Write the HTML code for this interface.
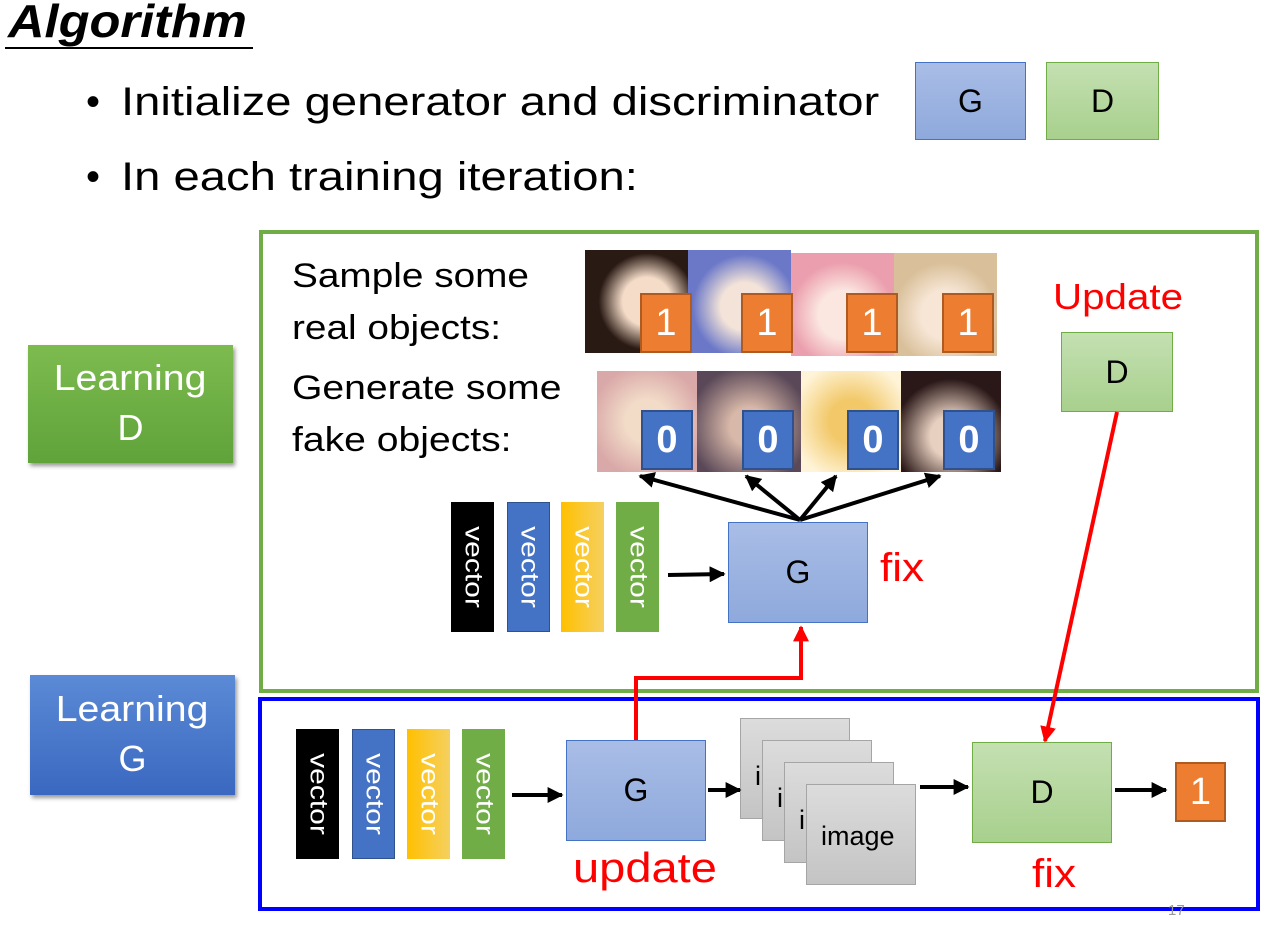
<!DOCTYPE html>
<html><head><meta charset="utf-8"><style>
body{margin:0;width:1276px;height:932px;background:#fff;position:relative;overflow:hidden;font-family:"Liberation Sans","DejaVu Sans",sans-serif;}
.a{position:absolute;}
.t{position:absolute;white-space:nowrap;color:#000;transform-origin:0 0;}
.gb{position:absolute;background:linear-gradient(#a9bde6,#8ea9dc);border:1px solid #4472c4;box-sizing:border-box;display:flex;align-items:center;justify-content:center;font-size:32px;}
.db{position:absolute;background:linear-gradient(#c4e0b2,#a8d08d);border:1px solid #70ad47;box-sizing:border-box;display:flex;align-items:center;justify-content:center;font-size:32px;}
.vec{position:absolute;width:43px;height:130px;box-sizing:border-box;}
.vec span{position:absolute;left:50%;top:50%;transform:translate(-50%,-50%) rotate(90deg) scaleX(1.2);color:#fff;font-size:25px;}
.lab{position:absolute;width:52px;height:60px;box-sizing:border-box;color:#fff;font-size:38px;display:flex;align-items:center;justify-content:center;}
.o{background:#ed7d31;border:2px solid #ae5a21;}
.b{background:#4472c4;border:2px solid #2f528f;font-weight:bold;}
.img{position:absolute;width:110px;height:101px;background:linear-gradient(#dcdcdc,#c4c4c4);border:1px solid #a5a5a5;box-sizing:border-box;font-size:27px;}
.red{color:#ff0000;}
</style></head><body>
<div class="t" style="left:8px;top:-6px;font-size:46px;font-weight:bold;font-style:italic;transform:scaleX(1.1);">Algorithm</div>
<div class="a" style="left:5px;top:47px;width:248px;height:2px;background:#000"></div>
<div class="t" style="left:86px;top:80px;font-size:40px;">•</div>
<div class="t" style="left:121px;top:80px;font-size:40px;transform:scaleX(1.18);">Initialize generator and discriminator</div>
<div class="t" style="left:86px;top:155px;font-size:40px;">•</div>
<div class="t" style="left:121px;top:155px;font-size:40px;transform:scaleX(1.18);">In each training iteration:</div>
<div class="gb" style="left:915px;top:62px;width:111px;height:78px;">G</div>
<div class="db" style="left:1046px;top:62px;width:113px;height:78px;">D</div>

<div class="a" style="left:259px;top:230px;width:1000px;height:463px;border:4px solid #70ad47;box-sizing:border-box;"></div>
<div class="a" style="left:258px;top:697px;width:1002px;height:214px;border:4px solid #0000ff;box-sizing:border-box;"></div>

<div class="a" style="left:28px;top:345px;width:205px;height:118px;background:linear-gradient(#7dbb4f,#5fa33a);box-shadow:2px 3px 4px #999;color:#fff;font-size:36px;text-align:center;line-height:50px;padding-top:8px;box-sizing:border-box;"><span style="display:inline-block;transform:scaleX(1.09)">Learning</span><br>D</div>
<div class="a" style="left:30px;top:675px;width:205px;height:120px;background:linear-gradient(#5b8ad6,#3a68c0);box-shadow:2px 3px 4px #999;color:#fff;font-size:36px;text-align:center;line-height:50px;padding-top:9px;box-sizing:border-box;"><span style="display:inline-block;transform:scaleX(1.09)">Learning</span><br>G</div>

<div class="t" style="left:292px;top:250px;font-size:34px;line-height:52px;transform:scaleX(1.14);">Sample some<br>real objects:</div>
<div class="t" style="left:292px;top:362px;font-size:34px;line-height:52px;transform:scaleX(1.15);">Generate some<br>fake objects:</div>

<div class="a" style="left:585px;top:250px;width:103px;height:103px;background:radial-gradient(circle at 60% 50%,#f4dcc8 30%,#2a1a14 60%);"></div>
<div class="a" style="left:688px;top:250px;width:103px;height:103px;background:radial-gradient(circle at 55% 55%,#f3e3d8 30%,#6b78c8 65%);"></div>
<div class="a" style="left:791px;top:253px;width:103px;height:103px;background:radial-gradient(circle at 50% 60%,#fbe6e0 30%,#eb9fae 65%);"></div>
<div class="a" style="left:894px;top:253px;width:103px;height:103px;background:radial-gradient(circle at 50% 60%,#f7e6d6 30%,#d9c09a 65%);"></div>
<div class="lab o" style="left:640px;top:293px;">1</div>
<div class="lab o" style="left:741px;top:293px;">1</div>
<div class="lab o" style="left:846px;top:293px;">1</div>
<div class="lab o" style="left:942px;top:293px;">1</div>
<div class="a" style="left:597px;top:371px;width:100px;height:101px;background:radial-gradient(circle at 50% 50%,#f2dcc8 30%,#d9a8a8 80%);"></div>
<div class="a" style="left:697px;top:371px;width:104px;height:101px;background:radial-gradient(circle at 50% 55%,#d8b8a8 25%,#5a4858 80%);"></div>
<div class="a" style="left:801px;top:371px;width:100px;height:101px;background:radial-gradient(circle at 50% 50%,#f2c868 30%,#fff4d8 85%);"></div>
<div class="a" style="left:901px;top:371px;width:100px;height:101px;background:radial-gradient(circle at 50% 65%,#e8d0c0 25%,#2a1818 70%);"></div>
<div class="lab b" style="left:641px;top:410px;">0</div>
<div class="lab b" style="left:742px;top:410px;">0</div>
<div class="lab b" style="left:847px;top:410px;">0</div>
<div class="lab b" style="left:943px;top:410px;">0</div>

<div class="vec" style="left:451px;top:502px;background:#000;"><span>vector</span></div>
<div class="vec" style="left:507px;top:502px;background:#4472c4;border:1px solid #2f528f;"><span>vector</span></div>
<div class="vec" style="left:561px;top:502px;background:linear-gradient(90deg,#ffc000,#f5d060);"><span>vector</span></div>
<div class="vec" style="left:616px;top:502px;background:#70ad47;"><span>vector</span></div>
<div class="gb" style="left:728px;top:522px;width:140px;height:101px;">G</div>
<div class="t red" style="left:880px;top:546px;font-size:40px;transform:scaleX(1.1);">fix</div>
<div class="t red" style="left:1053px;top:276px;font-size:36px;transform:scaleX(1.12);">Update</div>
<div class="db" style="left:1061px;top:332px;width:112px;height:80px;">D</div>

<div class="vec" style="left:296px;top:729px;background:#000;"><span>vector</span></div>
<div class="vec" style="left:352px;top:729px;background:#4472c4;border:1px solid #2f528f;"><span>vector</span></div>
<div class="vec" style="left:407px;top:729px;background:linear-gradient(90deg,#ffc000,#f5d060);"><span>vector</span></div>
<div class="vec" style="left:462px;top:729px;background:#70ad47;"><span>vector</span></div>
<div class="gb" style="left:566px;top:740px;width:140px;height:101px;">G</div>
<div class="t red" style="left:573px;top:844px;font-size:42px;transform:scaleX(1.12);">update</div>
<div class="img" style="left:740px;top:718px;"><span style="position:absolute;left:14px;top:42px">i</span></div>
<div class="img" style="left:762px;top:740px;"><span style="position:absolute;left:14px;top:42px">i</span></div>
<div class="img" style="left:784px;top:762px;"><span style="position:absolute;left:14px;top:42px">i</span></div>
<div class="img" style="left:806px;top:784px;"><span style="position:absolute;left:14px;top:36px">image</span></div>
<div class="db" style="left:972px;top:742px;width:140px;height:101px;">D</div>
<div class="t red" style="left:1032px;top:852px;font-size:40px;transform:scaleX(1.1);">fix</div>
<div class="lab o" style="left:1175px;top:762px;width:51px;">1</div>
<div class="t" style="left:1168px;top:902px;font-size:15px;color:#999;">17</div>

<svg class="a" style="left:0;top:0" width="1276" height="932">
<defs>
<marker id="ak" viewBox="0 0 10 10" refX="9" refY="5" markerWidth="16" markerHeight="16" orient="auto" markerUnits="userSpaceOnUse"><path d="M0,0 L10,5 L0,10z" fill="#000"/></marker>
<marker id="ar" viewBox="0 0 10 10" refX="9" refY="5" markerWidth="16" markerHeight="16" orient="auto" markerUnits="userSpaceOnUse"><path d="M0,0 L10,5 L0,10z" fill="#f00"/></marker>
</defs>
<g stroke="#000" stroke-width="4" fill="none">
<line x1="668" y1="575" x2="724" y2="574" marker-end="url(#ak)"/>
<line x1="800" y1="520" x2="640" y2="476" marker-end="url(#ak)"/>
<line x1="800" y1="520" x2="746" y2="476" marker-end="url(#ak)"/>
<line x1="800" y1="520" x2="836" y2="476" marker-end="url(#ak)"/>
<line x1="800" y1="520" x2="940" y2="476" marker-end="url(#ak)"/>
<line x1="512" y1="795" x2="562" y2="795" marker-end="url(#ak)"/>
<line x1="708" y1="790" x2="740" y2="790" marker-end="url(#ak)"/>
<line x1="920" y1="787" x2="968" y2="787" marker-end="url(#ak)"/>
<line x1="1115" y1="790" x2="1166" y2="790" marker-end="url(#ak)"/>
</g>
<g stroke="#f00" stroke-width="4" fill="none">
<polyline points="636,740 636,678 801,678 801,627" marker-end="url(#ar)"/>
<line x1="1117" y1="412" x2="1045" y2="741" marker-end="url(#ar)"/>
</g>
</svg>
</body></html>
